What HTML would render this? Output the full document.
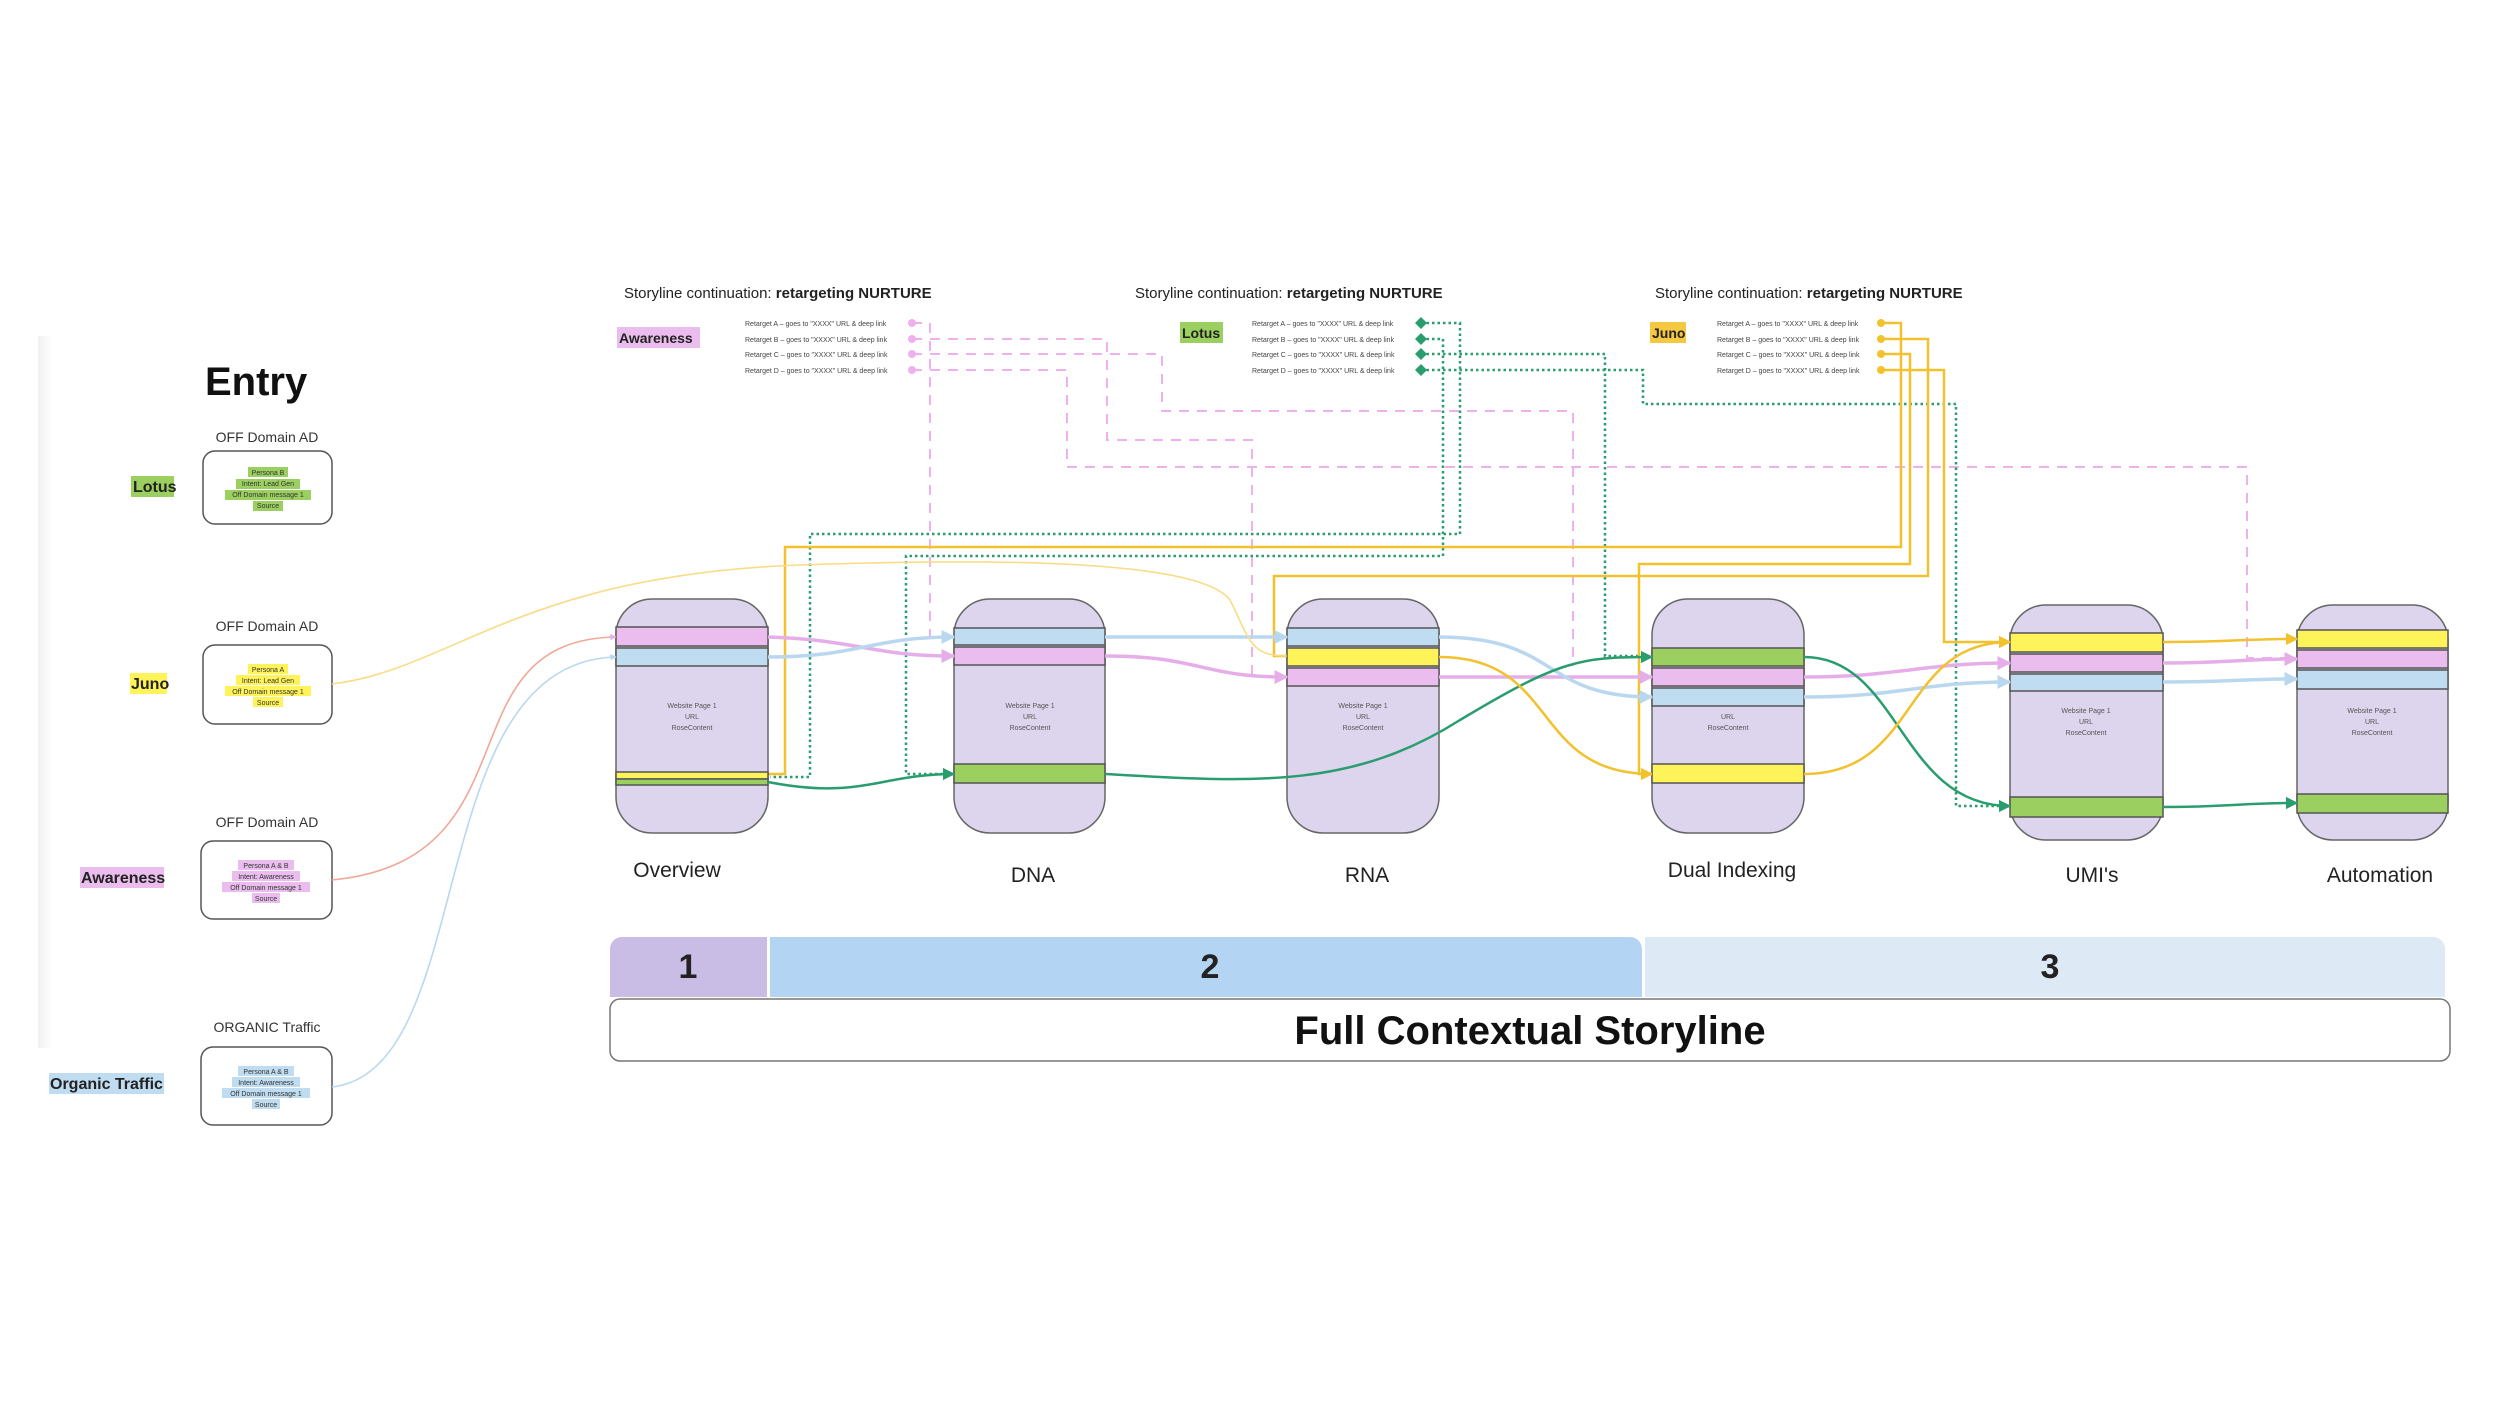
<!DOCTYPE html>
<html><head><meta charset="utf-8"><style>
html,body{margin:0;padding:0;background:#fff;}
svg{display:block;font-family:"Liberation Sans",sans-serif;}
</style></head><body>
<svg width="2500" height="1406" viewBox="0 0 2500 1406" xmlns="http://www.w3.org/2000/svg">
<defs>
<linearGradient id="sh" x1="0" x2="1"><stop offset="0" stop-color="#f1f1f1"/><stop offset="1" stop-color="#ffffff"/></linearGradient>
<marker id="ap" viewBox="0 0 10 10" refX="9" refY="5" markerWidth="4" markerHeight="4" orient="auto"><path d="M0,0L10,5L0,10z" fill="#e6aee9"/></marker>
<marker id="ab" viewBox="0 0 10 10" refX="9" refY="5" markerWidth="4" markerHeight="4" orient="auto"><path d="M0,0L10,5L0,10z" fill="#b9d8ef"/></marker>
<marker id="ay" viewBox="0 0 10 10" refX="9" refY="5" markerWidth="5" markerHeight="5" orient="auto"><path d="M0,0L10,5L0,10z" fill="#f2c12e"/></marker>
<marker id="ag" viewBox="0 0 10 10" refX="9" refY="5" markerWidth="5" markerHeight="5" orient="auto"><path d="M0,0L10,5L0,10z" fill="#2a9d6e"/></marker>
</defs>
<rect x="38" y="336" width="14" height="712" fill="url(#sh)"/>

<text x="205" y="395" font-size="40" font-weight="bold" fill="#111">Entry</text>
<g font-size="14" fill="#333" text-anchor="middle">
<text x="267" y="442">OFF Domain AD</text>
<text x="267" y="631">OFF Domain AD</text>
<text x="267" y="827">OFF Domain AD</text>
<text x="267" y="1032">ORGANIC Traffic</text>
</g>
<g fill="#fff" stroke="#555" stroke-width="1.5">
<rect x="203" y="451" width="129" height="73" rx="12"/>
<rect x="203" y="645" width="129" height="79" rx="12"/>
<rect x="201" y="841" width="131" height="78" rx="12"/>
<rect x="201" y="1047" width="131" height="78" rx="12"/>
</g>
<g font-size="7" text-anchor="middle" fill="#333">
<rect x="248" y="467" width="40" height="10" fill="#9bcf5f"/><rect x="236" y="479" width="64" height="10" fill="#9bcf5f"/><rect x="225" y="490" width="86" height="10" fill="#9bcf5f"/><rect x="253" y="501" width="30" height="10" fill="#9bcf5f"/>
<text x="268" y="475">Persona B</text><text x="268" y="486">Intent: Lead Gen</text><text x="268" y="497">Off Domain message 1</text><text x="268" y="508">Source</text>
<rect x="248" y="664" width="40" height="10" fill="#fff35a"/><rect x="236" y="675" width="64" height="10" fill="#fff35a"/><rect x="225" y="686" width="86" height="10" fill="#fff35a"/><rect x="253" y="697" width="30" height="10" fill="#fff35a"/>
<text x="268" y="672">Persona A</text><text x="268" y="683">Intent: Lead Gen</text><text x="268" y="694">Off Domain message 1</text><text x="268" y="705">Source</text>
<rect x="238" y="860" width="56" height="10" fill="#eabdee"/><rect x="232" y="871" width="68" height="10" fill="#eabdee"/><rect x="222" y="882" width="88" height="10" fill="#eabdee"/><rect x="252" y="893" width="28" height="10" fill="#eabdee"/>
<text x="266" y="868">Persona A &amp; B</text><text x="266" y="879">Intent: Awareness</text><text x="266" y="890">Off Domain message 1</text><text x="266" y="901">Source</text>
<rect x="238" y="1066" width="56" height="10" fill="#bfdcf0"/><rect x="232" y="1077" width="68" height="10" fill="#bfdcf0"/><rect x="222" y="1088" width="88" height="10" fill="#bfdcf0"/><rect x="252" y="1099" width="28" height="10" fill="#bfdcf0"/>
<text x="266" y="1074">Persona A &amp; B</text><text x="266" y="1085">Intent: Awareness</text><text x="266" y="1096">Off Domain message 1</text><text x="266" y="1107">Source</text>
</g>
<g font-size="16" font-weight="bold" fill="#222">
<rect x="131" y="476" width="43" height="21" fill="#9bcf5f"/><text x="133" y="492">Lotus</text>
<rect x="130" y="673" width="37" height="21" fill="#fff35a"/><text x="131" y="689">Juno</text>
<rect x="80" y="867" width="84" height="21" fill="#eabdee"/><text x="81" y="883">Awareness</text>
<rect x="49" y="1073" width="115" height="21" fill="#bfdcf0"/><text x="50" y="1089">Organic Traffic</text>
</g>

<g font-size="15" fill="#222">
<text x="624" y="298">Storyline continuation: <tspan font-weight="bold">retargeting NURTURE</tspan></text>
<text x="1135" y="298">Storyline continuation: <tspan font-weight="bold">retargeting NURTURE</tspan></text>
<text x="1655" y="298">Storyline continuation: <tspan font-weight="bold">retargeting NURTURE</tspan></text>
</g>
<g font-size="14" font-weight="bold" fill="#222">
<rect x="617" y="327" width="83" height="21" fill="#eabdee"/><text x="619" y="343">Awareness</text>
<rect x="1180" y="322" width="43" height="21" fill="#9bcf5f"/><text x="1182" y="338">Lotus</text>
<rect x="1650" y="322" width="36" height="21" fill="#f5c842"/><text x="1652" y="338">Juno</text>
</g>
<g font-size="7" fill="#444">
<text x="745" y="326">Retarget A – goes to "XXXX" URL &amp; deep link</text>
<text x="745" y="342">Retarget B – goes to "XXXX" URL &amp; deep link</text>
<text x="745" y="357">Retarget C – goes to "XXXX" URL &amp; deep link</text>
<text x="745" y="373">Retarget D – goes to "XXXX" URL &amp; deep link</text>
<text x="1252" y="326">Retarget A – goes to "XXXX" URL &amp; deep link</text>
<text x="1252" y="342">Retarget B – goes to "XXXX" URL &amp; deep link</text>
<text x="1252" y="357">Retarget C – goes to "XXXX" URL &amp; deep link</text>
<text x="1252" y="373">Retarget D – goes to "XXXX" URL &amp; deep link</text>
<text x="1717" y="326">Retarget A – goes to "XXXX" URL &amp; deep link</text>
<text x="1717" y="342">Retarget B – goes to "XXXX" URL &amp; deep link</text>
<text x="1717" y="357">Retarget C – goes to "XXXX" URL &amp; deep link</text>
<text x="1717" y="373">Retarget D – goes to "XXXX" URL &amp; deep link</text>
</g>

<g fill="none" stroke="#eeb0ee" stroke-width="2" stroke-dasharray="10,8">
<path d="M912,323H930V640"/>
<path d="M912,339H1107V440H1252V676"/>
<path d="M912,354H1162V411H1573V666"/>
<path d="M912,370H1067V467H2247V658H2297"/>
</g>
<g fill="#eeb0ee"><circle cx="912" cy="323" r="4"/><circle cx="912" cy="339" r="4"/><circle cx="912" cy="354" r="4"/><circle cx="912" cy="370" r="4"/></g>

<g fill="none" stroke="#2a9d6e" stroke-width="2.5" stroke-dasharray="2.5,3">
<path d="M1421,323H1460V534H810V777H770"/>
<path d="M1421,339H1443V556H906V774H954"/>
<path d="M1421,354H1605V656H1652"/>
<path d="M1421,370H1643V404H1956V806H2010"/>
</g>
<g fill="#2a9d6e"><path d="M1421,317l6,6-6,6-6-6z"/><path d="M1421,333l6,6-6,6-6-6z"/><path d="M1421,348l6,6-6,6-6-6z"/><path d="M1421,364l6,6-6,6-6-6z"/></g>

<g fill="none" stroke="#f2c12e" stroke-width="2.5">
<path d="M1881,323H1901V547H785V774H768"/>
<path d="M1881,339H1928V576H1274V656H1287"/>
<path d="M1881,354H1910V564H1639V774H1652" marker-end="url(#ay)"/>
<path d="M1881,370H1944V642H2010" marker-end="url(#ay)"/>
</g>
<g fill="#f2c12e"><circle cx="1881" cy="323" r="4"/><circle cx="1881" cy="339" r="4"/><circle cx="1881" cy="354" r="4"/><circle cx="1881" cy="370" r="4"/></g>

<g stroke="#666" stroke-width="1.5">
<rect x="616" y="599" width="152" height="234" rx="36" fill="#ddd5ee"/>
<rect x="954" y="599" width="151" height="234" rx="36" fill="#ddd5ee"/>
<rect x="1287" y="599" width="152" height="234" rx="36" fill="#ddd5ee"/>
<rect x="1652" y="599" width="152" height="234" rx="36" fill="#ddd5ee"/>
<rect x="2010" y="605" width="153" height="235" rx="36" fill="#ddd5ee"/>
<rect x="2297" y="605" width="151" height="235" rx="36" fill="#ddd5ee"/>
</g>
<g stroke="#555" stroke-width="1.5">
<rect x="616" y="627" width="152" height="19" fill="#eabdee"/><rect x="616" y="648" width="152" height="18" fill="#bfdcf0"/>
<rect x="616" y="772" width="152" height="7" fill="#fff35a"/><rect x="616" y="779" width="152" height="6" fill="#9bcf5f"/>
<rect x="954" y="628" width="151" height="17" fill="#bfdcf0"/><rect x="954" y="647" width="151" height="18" fill="#eabdee"/><rect x="954" y="764" width="151" height="19" fill="#9bcf5f"/>
<rect x="1287" y="628" width="152" height="18" fill="#bfdcf0"/><rect x="1287" y="648" width="152" height="18" fill="#fff35a"/><rect x="1287" y="668" width="152" height="18" fill="#eabdee"/>
<rect x="1652" y="648" width="152" height="18" fill="#9bcf5f"/><rect x="1652" y="668" width="152" height="18" fill="#eabdee"/><rect x="1652" y="688" width="152" height="18" fill="#bfdcf0"/><rect x="1652" y="764" width="152" height="19" fill="#fff35a"/>
<rect x="2010" y="633" width="153" height="19" fill="#fff35a"/><rect x="2010" y="654" width="153" height="18" fill="#eabdee"/><rect x="2010" y="674" width="153" height="17" fill="#bfdcf0"/><rect x="2010" y="797" width="153" height="20" fill="#9bcf5f"/>
<rect x="2297" y="630" width="151" height="18" fill="#fff35a"/><rect x="2297" y="650" width="151" height="18" fill="#eabdee"/><rect x="2297" y="670" width="151" height="19" fill="#bfdcf0"/><rect x="2297" y="794" width="151" height="19" fill="#9bcf5f"/>
</g>
<g font-size="7" fill="#555" text-anchor="middle">
<text x="692" y="708">Website Page 1</text><text x="692" y="719">URL</text><text x="692" y="730">RoseContent</text>
<text x="1030" y="708">Website Page 1</text><text x="1030" y="719">URL</text><text x="1030" y="730">RoseContent</text>
<text x="1363" y="708">Website Page 1</text><text x="1363" y="719">URL</text><text x="1363" y="730">RoseContent</text>
<text x="1728" y="719">URL</text><text x="1728" y="730">RoseContent</text>
<text x="2086" y="713">Website Page 1</text><text x="2086" y="724">URL</text><text x="2086" y="735">RoseContent</text>
<text x="2372" y="713">Website Page 1</text><text x="2372" y="724">URL</text><text x="2372" y="735">RoseContent</text>
</g>
<g font-size="21" fill="#222" text-anchor="middle">
<text x="677" y="877">Overview</text><text x="1033" y="882">DNA</text><text x="1367" y="882">RNA</text>
<text x="1732" y="877">Dual Indexing</text><text x="2092" y="882">UMI's</text><text x="2380" y="882">Automation</text>
</g>

<g fill="none" stroke-width="3.5">
<path d="M768,637C860,640 870,656 954,656" stroke="#e6aee9" marker-end="url(#ap)"/>
<path d="M768,657C860,657 870,637 954,637" stroke="#b9d8ef" marker-end="url(#ab)"/>
<path d="M1105,637H1287" stroke="#b9d8ef" marker-end="url(#ab)"/>
<path d="M1105,656C1200,656 1200,677 1287,677" stroke="#e6aee9" marker-end="url(#ap)"/>
<path d="M1439,677H1652" stroke="#e6aee9" marker-end="url(#ap)"/>
<path d="M1439,637C1560,637 1540,697 1652,697" stroke="#b9d8ef" marker-end="url(#ab)"/>
<path d="M1804,677C1900,677 1920,663 2010,663" stroke="#e6aee9" marker-end="url(#ap)"/>
<path d="M1804,697C1900,697 1920,682 2010,682" stroke="#b9d8ef" marker-end="url(#ab)"/>
<path d="M2163,663C2230,663 2240,659 2297,659" stroke="#e6aee9" marker-end="url(#ap)"/>
<path d="M2163,682C2230,682 2240,679 2297,679" stroke="#b9d8ef" marker-end="url(#ab)"/>
</g>
<g fill="none" stroke-width="2.5">
<path d="M768,782C860,800 880,774 954,774" stroke="#2a9d6e" marker-end="url(#ag)"/>
<path d="M1105,774C1250,782 1350,790 1460,720C1560,660 1580,657 1652,657" stroke="#2a9d6e" marker-end="url(#ag)"/>
<path d="M1804,657C1900,657 1900,806 2010,806" stroke="#2a9d6e" marker-end="url(#ag)"/>
<path d="M2163,807C2230,807 2240,803 2297,803" stroke="#2a9d6e" marker-end="url(#ag)"/>
<path d="M1439,657C1560,657 1530,774 1652,774" stroke="#f2c12e"/>
<path d="M1804,774C1920,774 1900,642 2010,642" stroke="#f2c12e" marker-end="url(#ay)"/>
<path d="M2163,642C2230,642 2240,639 2297,639" stroke="#f2c12e" marker-end="url(#ay)"/>
</g>
<g fill="none" stroke-width="1.6">
<path d="M332,684C450,670 520,575 800,565C1000,558 1200,560 1230,600C1250,640 1250,656 1287,656" stroke="#f8dc86"/>
<path d="M332,880C540,860 440,640 616,637" stroke="#f0a898" marker-end="url(#ap)"/>
<path d="M332,1087C480,1070 420,662 616,657" stroke="#b9d8ef" marker-end="url(#ab)"/>
</g>

<path d="M622,937H767V997H610V949A12,12 0 0 1 622,937Z" fill="#c9bde6"/>
<path d="M770,937H1630A12,12 0 0 1 1642,949V997H770Z" fill="#b3d4f2"/>
<path d="M1645,937H2433A12,12 0 0 1 2445,949V997H1645Z" fill="#dde9f5"/>
<g font-size="34" font-weight="bold" fill="#222" text-anchor="middle">
<text x="688" y="978">1</text><text x="1210" y="978">2</text><text x="2050" y="978">3</text>
</g>
<rect x="610" y="999" width="1840" height="62" rx="10" fill="#fff" stroke="#777" stroke-width="1.5"/>
<text x="1530" y="1044" font-size="40" font-weight="bold" fill="#111" text-anchor="middle">Full Contextual Storyline</text>
</svg>
</body></html>
